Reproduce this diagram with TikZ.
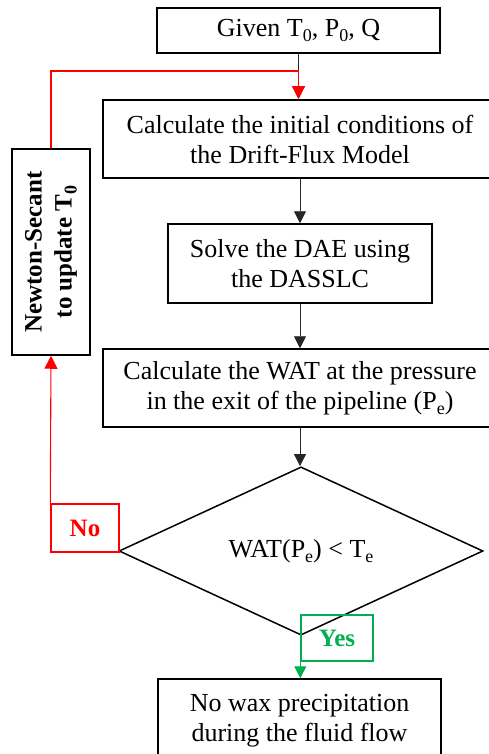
\documentclass[tikz,border=0pt]{standalone}
\usepackage{fontspec}
\setmainfont{Liberation Serif}
\usetikzlibrary{arrows.meta,shapes.geometric}
\definecolor{yesgreen}{RGB}{0,176,80}
% lowered index, a little larger than \textsubscript
\newcommand\lowidx[1]{\raisebox{-0.2em}{\fontsize{18}{18}\selectfont #1}}
\begin{document}
\begin{tikzpicture}[x=1pt,y=-1pt,
  txt/.style={font=\fontsize{26}{30}\selectfont},
  stepbox/.style={draw=black,line width=1.5pt,rectangle,inner sep=0pt,align=center,txt},
  decision/.style={draw=black,line width=1.5pt,diamond,inner sep=0pt,txt},
  tag/.style={rectangle,line width=1.4pt,inner sep=0pt,font=\fontsize{25}{30}\selectfont\bfseries},
  flow/.style={draw=black!85,line width=0.8pt,-{Triangle[width=12pt,length=12pt]}},
  redline/.style={draw=red,line width=1.1pt},
  redarrow/.style={redline,-{Triangle[width=13pt,length=13pt]}}
]
\useasboundingbox (0,0) rectangle (488,754);

% process steps
\node[stepbox,minimum width=283pt,minimum height=45pt] (given) at (298.5,30.5)
  {Given T\lowidx{0}, P\lowidx{0}, Q};
\node[stepbox,minimum width=394pt,minimum height=78pt] (init) at (300,139)
  {Calculate the initial conditions of\\the Drift-Flux Model};
\node[stepbox,minimum width=264pt,minimum height=79pt] (dae) at (300,263.5)
  {Solve the DAE using\\the DASSLC};
\node[stepbox,minimum width=394pt,minimum height=78pt] (wat) at (300,388)
  {Calculate the WAT at the pressure\\in the exit of the pipeline (P\lowidx{e})};
\node[decision,minimum width=364pt,minimum height=124pt] (test) at (301,551)
  {WAT(P\lowidx{e}) < T\lowidx{e}};
\node[stepbox,minimum width=283pt,minimum height=84pt] (end) at (299.5,721)
  {No wax precipitation\\during the fluid flow};

% update of the inlet temperature (text reads upwards)
\node[stepbox,rotate=90,minimum width=206pt,minimum height=78pt,
  font=\fontsize{25}{30}\selectfont\bfseries] (newton) at (51,252)
  {Newton-Secant\\to update T\lowidx{0}};

% branch labels
\node[tag,draw=red,text=red,minimum width=68pt,minimum height=48pt] (no) at (85,528) {No};
\node[tag,draw=yesgreen,text=yesgreen,minimum width=72pt,minimum height=46pt] (yes) at (337,638) {Yes};

% main flow
\coordinate (merge) at (given.south |- 0,71);
\draw[draw=black!85,line width=0.8pt] (given.south) -- (merge);
\draw[redarrow] (merge) -- (merge |- init.north);
\draw[flow] (init.south) -- (dae.north);
\draw[flow] (dae.south) -- (wat.north);
\draw[flow] (wat.south) -- (wat.south |- test.north);

% iteration loop
\draw[redarrow] (no.north west) -- (newton.west);
\draw[redline] (newton.east) |- (merge);

% exit branch
\draw[draw=yesgreen,line width=1pt,-{Triangle[width=12pt,length=12pt]}]
  (yes.south west) -- (yes.south west |- end.north);
\end{tikzpicture}
\end{document}
